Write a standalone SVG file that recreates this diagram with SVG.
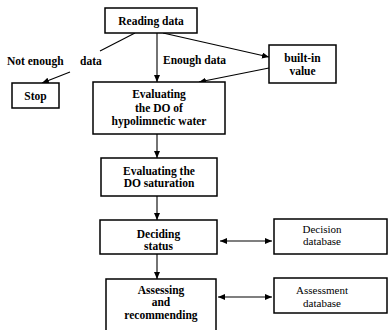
<svg xmlns="http://www.w3.org/2000/svg" width="388" height="330" viewBox="0 0 388 330">
<style>
.box{fill:#fff;stroke:#000;stroke-width:1.5}
text{font-family:"Liberation Serif","DejaVu Serif","Times New Roman",serif;fill:#000}
.t{font-size:11.5px;font-weight:bold;text-anchor:middle}
.d{font-size:11px;text-anchor:middle}
.l{font-size:11.5px;font-weight:bold}
.c{stroke:#000;stroke-width:1.1;fill:none}
</style>
<defs>
<marker id="ah" markerUnits="userSpaceOnUse" markerWidth="8" markerHeight="7" refX="7" refY="3" orient="auto-start-reverse">
<path d="M0,0 L7,3 L0,6 z" fill="#000"/>
</marker>
</defs>
<rect width="388" height="330" fill="#fff"/>
<g id="connectors">
<line class="c" x1="135" y1="33" x2="100" y2="51"/>
<line class="c" x1="70" y1="72" x2="42" y2="83" marker-end="url(#ah)"/>
<line class="c" x1="157" y1="33" x2="157" y2="82" marker-end="url(#ah)"/>
<line class="c" x1="163" y1="33" x2="269" y2="57" marker-end="url(#ah)"/>
<line class="c" x1="269" y1="68" x2="199" y2="82" marker-end="url(#ah)"/>
<line class="c" x1="157" y1="134" x2="157" y2="158" marker-end="url(#ah)"/>
<line class="c" x1="157" y1="196" x2="157" y2="220" marker-end="url(#ah)"/>
<line class="c" x1="157" y1="254" x2="157" y2="279" marker-end="url(#ah)"/>
<line class="c" x1="220" y1="241" x2="272" y2="241" marker-start="url(#ah)" marker-end="url(#ah)"/>
<line class="c" x1="218" y1="297" x2="272" y2="297" marker-start="url(#ah)" marker-end="url(#ah)"/>
<text class="l" x="7" y="65">Not enough</text>
<text class="l" x="80" y="65">data</text>
<text class="l" x="163" y="64">Enough data</text>
</g>
<g id="reading">
<rect class="box" x="105" y="8" width="92" height="25"/>
<text class="t" x="151" y="25">Reading data</text>
</g>
<g id="stop">
<rect class="box" x="12" y="83" width="47" height="25"/>
<text class="t" x="35.5" y="100">Stop</text>
</g>
<g id="builtin">
<rect class="box" x="269" y="45" width="67" height="38"/>
<text class="t" x="302.5" y="62">built-in</text>
<text class="t" x="302.5" y="75">value</text>
</g>
<g id="evaldo">
<rect class="box" x="93" y="82" width="132" height="52"/>
<text class="t" x="159" y="98">Evaluating</text>
<text class="t" x="159" y="111.5">the DO of</text>
<text class="t" x="159" y="125">hypolimnetic water</text>
</g>
<g id="evalsat">
<rect class="box" x="101" y="158" width="116" height="38"/>
<text class="t" x="159" y="175">Evaluating the</text>
<text class="t" x="159" y="187">DO saturation</text>
</g>
<g id="deciding">
<rect class="box" x="100" y="220" width="117" height="34"/>
<text class="t" x="158.5" y="238">Deciding</text>
<text class="t" x="158.5" y="250">status</text>
</g>
<g id="decisiondb">
<rect class="box" x="274" y="219" width="113" height="35"/>
<text class="d" x="322" y="233">Decision</text>
<text class="d" x="322" y="245">database</text>
</g>
<g id="assessing">
<rect class="box" x="106" y="279" width="110" height="60"/>
<text class="t" x="161" y="294">Assessing</text>
<text class="t" x="161" y="306">and</text>
<text class="t" x="161" y="319">recommending</text>
</g>
<g id="assessmentdb">
<rect class="box" x="274" y="278" width="113" height="35"/>
<text class="d" x="322" y="294">Assessment</text>
<text class="d" x="322" y="307">database</text>
</g>
</svg>
